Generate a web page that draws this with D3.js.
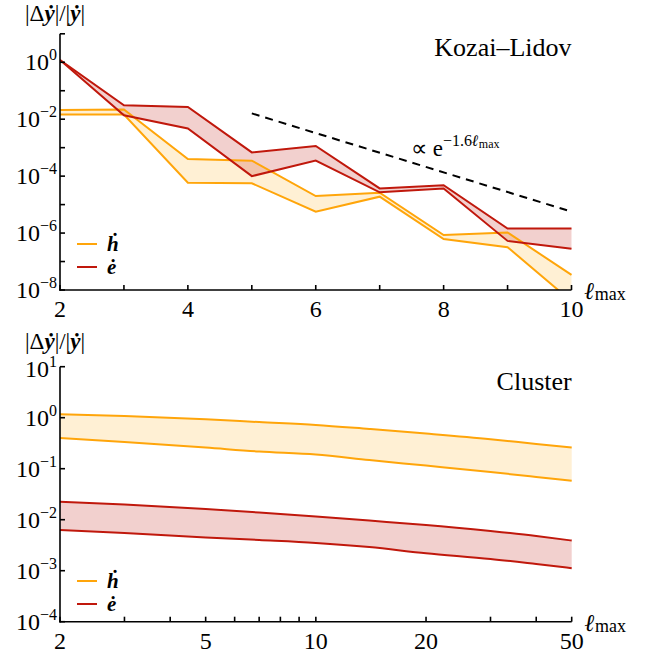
<!DOCTYPE html>
<html>
<head>
<meta charset="utf-8">
<script src="https://cdn.jsdelivr.net/npm/d3@7"></script>
</head>
<body style="margin:0">
<script>
// ---- Kozai–Lidov panel: relative error vs truncation order ----
const klOrders = [2, 3, 4, 5, 6, 7, 8, 9, 10];
const klHdotHi = [0.021, 0.022, 4.0e-4, 3.5e-4, 2.0e-5, 2.6e-5, 8.5e-7, 1.05e-6, 3.4e-8];
const klHdotLo = [0.0146, 0.0146, 5.9e-5, 5.6e-5, 5.6e-6, 1.9e-5, 6.2e-7, 3.2e-7, 4.0e-9];
const klEdotHi = [1.2, 0.031, 0.027, 6.8e-4, 1.15e-3, 3.7e-5, 4.8e-5, 1.45e-6, 1.45e-6];
const klEdotLo = [1.2, 0.0138, 4.7e-3, 1.0e-4, 3.5e-4, 2.7e-5, 3.7e-5, 5.3e-7, 2.8e-7];
// reference slope  ∝ e^{-1.6 ℓmax}
const guideOrders = [5, 9.93];
const guideValues = [0.016, 6.3e-6];
const klXTicks = [2, 3, 4, 5, 6, 7, 8, 9, 10];
const klXLabels = [2, 4, 6, 8, 10];
const klYTicks = [1, 0, -1, -2, -3, -4, -5, -6, -7, -8];
const klYLabels = [0, -2, -4, -6, -8];

// ---- Cluster panel ----
const clOrders = [2, 3, 5, 7, 10, 14, 20, 30, 40, 50];
const clHdotHi = [1.17, 1.08, 0.93, 0.82, 0.72, 0.60, 0.49, 0.38, 0.305, 0.26];
const clHdotLo = [0.40, 0.334, 0.26, 0.217, 0.19, 0.148, 0.115, 0.086, 0.069, 0.058];
const clEdotHi = [0.0224, 0.0199, 0.0162, 0.0138, 0.0115, 0.0096, 0.0079, 0.0060, 0.0048, 0.0039];
const clEdotLo = [0.0063, 0.0055, 0.0045, 0.0040, 0.0035, 0.0029, 0.0022, 0.0017, 0.00135, 0.00112];
const clXTicks = [2, 3, 4, 5, 6, 7, 8, 9, 10, 20, 30, 40, 50];
const clXLabels = [2, 5, 10, 20, 50];
const clYTicks = [1, 0, -1, -2, -3, -4];
const clYLabels = [1, 0, -1, -2, -3, -4];

const ORANGE = "#ffa50a";
const RED = "#c0180c";
const ORANGE_FILL = "rgba(255,165,0,0.17)";
const RED_FILL = "rgba(192,20,10,0.2)";

const W = 646, H = 656;
const svg = d3.select("body").append("svg").attr("width", W).attr("height", H);
// marks go in one layer, all text straight onto the svg root
const marks = svg.append("g");

function zip(xs, a, b) { return xs.map((x, i) => ({ x, hi: a[i], lo: b[i] })); }

function tickText(size) {
  return svg.append("text").attr("font-size", size).attr("font-family", "Liberation Serif");
}
function styledText(size) {
  return svg.append("text").attr("font-size", size).style("font-family", '"Liberation Serif"');
}

function drawPanel(cfg) {
  const g = marks.append("g");
  const x = cfg.xScale, y = cfg.yScale;
  const [x0, x1] = x.range();
  const [y0, y1] = y.range(); // y0 bottom, y1 top

  const clipId = "clip-" + cfg.id;
  g.append("clipPath").attr("id", clipId)
    .append("rect").attr("x", x0).attr("y", y1 - 2).attr("width", x1 - x0 + 2).attr("height", y0 - y1 + 2);
  const plot = g.append("g").attr("clip-path", `url(#${clipId})`);

  const curve = cfg.curve;
  const area = d3.area().x(d => x(d.x)).y0(d => y(d.lo)).y1(d => y(d.hi)).curve(curve);
  const lineHi = d3.line().x(d => x(d.x)).y(d => y(d.hi)).curve(curve);
  const lineLo = d3.line().x(d => x(d.x)).y(d => y(d.lo)).curve(curve);

  cfg.series.forEach(s => {
    plot.append("path").datum(s.data).attr("d", area).attr("fill", s.fill).attr("stroke", "none");
  });
  cfg.series.forEach(s => {
    [lineHi, lineLo].forEach(l => {
      plot.append("path").datum(s.data).attr("d", l)
        .attr("fill", "none").attr("stroke", s.color).attr("stroke-width", 2)
        .attr("stroke-linejoin", "miter");
    });
  });

  if (cfg.guide) {
    const gd = cfg.guide.x.map((v, i) => [x(v), y(cfg.guide.y[i])]);
    plot.append("path").attr("d", d3.line()(gd))
      .attr("fill", "none").attr("stroke", "#000").attr("stroke-width", 2)
      .attr("stroke-dasharray", "8,6");
  }

  // axes: left and bottom only, ticks pointing inward
  const axis = g.append("g").attr("stroke", "#000").attr("stroke-width", 1.6);
  axis.append("line").attr("x1", x0).attr("x2", x0).attr("y1", y1).attr("y2", y0 + 0.8);
  axis.append("line").attr("x1", x0 - 0.8).attr("x2", x1).attr("y1", y0).attr("y2", y0);
  cfg.xTicks.forEach(t => {
    axis.append("line").attr("x1", x(t)).attr("x2", x(t)).attr("y1", y0).attr("y2", y0 - 5);
  });
  cfg.yTicks.forEach(e => {
    axis.append("line").attr("x1", x0).attr("x2", x0 + 5).attr("y1", y(Math.pow(10, e))).attr("y2", y(Math.pow(10, e)));
  });

  cfg.xLabels.forEach(t => {
    tickText(24).attr("x", x(t)).attr("y", y0 + 27).attr("text-anchor", "middle").text(t);
  });
  cfg.yLabels.forEach(e => {
    const t = tickText(24).attr("x", x0 - 3).attr("y", y(Math.pow(10, e)) + (e === 1 ? 10 : 8))
      .attr("text-anchor", "end");
    t.append("tspan").text("10");
    t.append("tspan").attr("dy", -10).attr("font-size", 16).text(e < 0 ? "\u2212" + (-e) : String(e));
  });

  // axis titles
  const yl = styledText(23).attr("x", 25).attr("y", cfg.yTitleY);
  yl.append("tspan").text("|\u0394");
  yl.append("tspan").attr("font-weight", "bold").attr("font-style", "italic").text("\u1E8F");
  yl.append("tspan").text("|/|");
  yl.append("tspan").attr("font-weight", "bold").attr("font-style", "italic").text("\u1E8F");
  yl.append("tspan").text("|");

  const xl = styledText(24).attr("x", x1 + 13).attr("y", y0 + 9);
  xl.append("tspan").attr("font-weight", "bold").attr("font-style", "italic").text("\u2113");
  xl.append("tspan").attr("dy", 1).attr("font-size", 18).text("max");

  styledText(26).attr("x", x1).attr("y", cfg.titleY).attr("text-anchor", "end").text(cfg.title);

  // legend
  cfg.series.forEach((s, i) => {
    const ly = cfg.legendY + i * cfg.legendGap;
    g.append("line").attr("x1", 77).attr("x2", 97).attr("y1", ly).attr("y2", ly)
      .attr("stroke", s.color).attr("stroke-width", 2);
    styledText(21).attr("x", 107).attr("y", ly + 7)
      .attr("font-weight", "bold").attr("font-style", "italic").text(s.label);
  });
}

// top panel
const xTop = d3.scaleLinear().domain([2, 10]).range([60, 571.5]);
const yTop = d3.scaleLog().domain([1e-8, 10]).range([290, 33.8]);
drawPanel({
  id: "kl", xScale: xTop, yScale: yTop, curve: d3.curveLinear,
  series: [
    { label: "\u1E23", color: ORANGE, fill: ORANGE_FILL, data: zip(klOrders, klHdotHi, klHdotLo) },
    { label: "\u0117", color: RED, fill: RED_FILL, data: zip(klOrders, klEdotHi, klEdotLo) }
  ],
  guide: { x: guideOrders, y: guideValues },
  xTicks: klXTicks, xLabels: klXLabels, yTicks: klYTicks, yLabels: klYLabels,
  title: "Kozai\u2013Lidov", titleY: 56, yTitleY: 21,
  legendY: 244, legendGap: 23
});
// slope annotation
const ann = styledText(23).attr("x", 411).attr("y", 156);
ann.append("tspan").text("\u221D e");
ann.append("tspan").attr("dy", -10).attr("font-size", 16).text("\u22121.6");
ann.append("tspan").attr("font-size", 16).attr("font-style", "italic").attr("font-weight", "bold").text("\u2113");
ann.append("tspan").attr("dy", 2).attr("font-size", 12).text("max");

// bottom panel
const xBot = d3.scaleLog().domain([2, 50]).range([60, 571.7]);
const yBot = d3.scaleLog().domain([1e-4, 10]).range([621.7, 366.7]);
drawPanel({
  id: "cl", xScale: xBot, yScale: yBot, curve: d3.curveMonotoneX,
  series: [
    { label: "\u1E23", color: ORANGE, fill: ORANGE_FILL, data: zip(clOrders, clHdotHi, clHdotLo) },
    { label: "\u0117", color: RED, fill: RED_FILL, data: zip(clOrders, clEdotHi, clEdotLo) }
  ],
  xTicks: clXTicks, xLabels: clXLabels, yTicks: clYTicks, yLabels: clYLabels,
  title: "Cluster", titleY: 390, yTitleY: 349,
  legendY: 581, legendGap: 23
});
</script>
</body>
</html>
